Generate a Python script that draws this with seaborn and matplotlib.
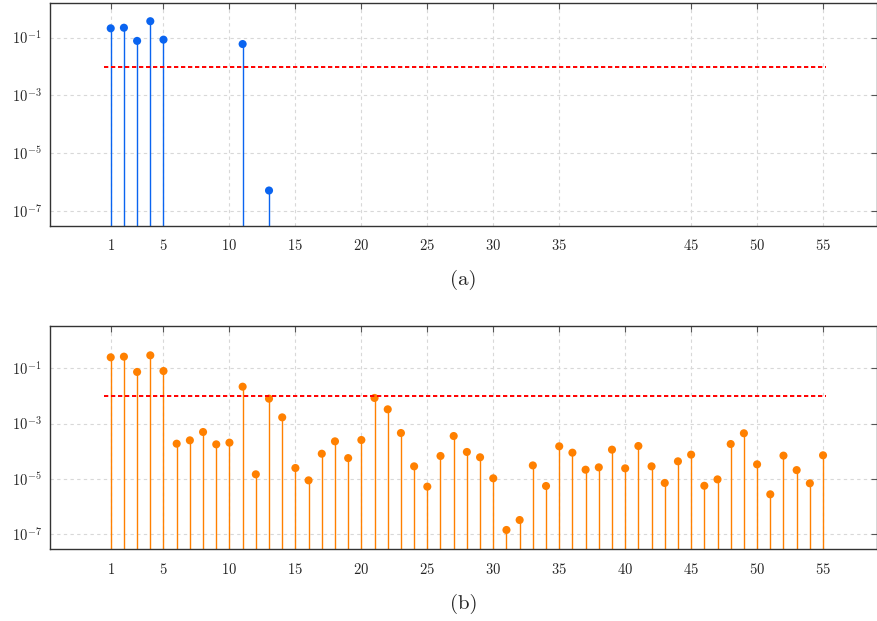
import numpy as np
import pandas as pd
import seaborn as sns
import matplotlib.pyplot as plt
from matplotlib.ticker import NullLocator

# panel (a): retained components
idx_a = [1, 2, 3, 4, 5, 11, 13]
val_a = [0.21, 0.22, 0.077, 0.37, 0.085, 0.06, 5.1e-7]

# panel (b): all components
idx_b = list(range(1, 56))
val_b = [0.25, 0.264, 0.074, 0.295, 0.080, 1.89e-4, 2.5e-4, 5.0e-4, 1.79e-4, 2.06e-4,
         0.0217, 1.48e-5, 8.0e-3, 1.69e-3, 2.5e-5, 8.95e-6, 8.2e-5, 2.3e-4, 5.7e-5, 2.57e-4,
         8.5e-3, 3.3e-3, 4.6e-4, 2.87e-5, 5.3e-6, 6.8e-5, 3.58e-4, 9.5e-5, 6.1e-5, 1.06e-5,
         1.44e-7, 3.3e-7, 3.1e-5, 5.6e-6, 1.52e-4, 8.95e-5, 2.17e-5, 2.64e-5, 1.15e-4, 2.43e-5,
         1.56e-4, 2.87e-5, 7.2e-6, 4.36e-5, 7.6e-5, 5.7e-6, 9.7e-6, 1.84e-4, 4.5e-4, 3.39e-5,
         2.8e-6, 7.0e-5, 2.1e-5, 7.0e-6, 7.2e-5]

threshold = 1e-2
thr_span = (0.5, 55.2)

xticks_a = [1, 5, 10, 15, 20, 25, 30, 35, 45, 50, 55]
xticks_b = [1, 5, 10, 15, 20, 25, 30, 35, 40, 45, 50, 55]
yticks = [1e-7, 1e-5, 1e-3, 1e-1]

sns.set_theme(style="white")
plt.rcParams['font.family'] = ['cmr10', 'DejaVu Serif']
plt.rcParams['mathtext.fontset'] = 'cm'
plt.rcParams['axes.formatter.use_mathtext'] = True
plt.rcParams['axes.unicode_minus'] = False

fig = plt.figure(figsize=(8.78, 6.21), dpi=100)
ax1 = fig.add_axes([0.057, 0.6366, 0.942, 0.3591])
ax2 = fig.add_axes([0.057, 0.1159, 0.942, 0.3596])


def panel(ax, idx, vals, color, xticks, ylim, label):
    df = pd.DataFrame({"k": idx, "v": vals})
    ax.set_yscale("log")
    ax.vlines(df["k"], 1e-10, df["v"], colors=color, lw=1.0, zorder=2)
    sns.scatterplot(data=df, x="k", y="v", ax=ax, color=color, s=34,
                    edgecolor="none", zorder=3, legend=False)
    ax.hlines(threshold, thr_span[0], thr_span[1], colors="red",
              linestyles=(0, (2.2, 1.4)), lw=1.4, zorder=4)
    ax.set_xlim(-3.6, 59.1)
    ax.set_ylim(*ylim)
    ax.set_xticks(xticks)
    ax.set_yticks(yticks)
    ax.yaxis.set_minor_locator(NullLocator())
    ax.grid(True, which="major", color="#d8d8d8", ls=(0, (3, 3)), lw=0.8)
    ax.set_axisbelow(True)
    ax.set_xlabel("")
    ax.set_ylabel("")
    ax.tick_params(direction="in", length=4, width=0.8, color="#555555",
                   top=True, right=True, labelsize=10.5)
    ax.tick_params(axis="x", pad=9)
    ax.tick_params(axis="y", pad=6)
    for s in ax.spines.values():
        s.set_color("#333333")
        s.set_linewidth(1.0)
    ax.text(0.5, label[1], label[0], transform=ax.transAxes, ha="center",
            va="center", fontsize=15)


panel(ax1, idx_a, val_a, "#0a64f0", xticks_a, (10 ** -7.51, 10 ** 0.21), ("(a)", -0.245))
panel(ax2, idx_b, val_b, "#ff8000", xticks_b, (10 ** -7.53, 10 ** 0.54), ("(b)", -0.245))

fig.savefig("out.png", dpi=100)
